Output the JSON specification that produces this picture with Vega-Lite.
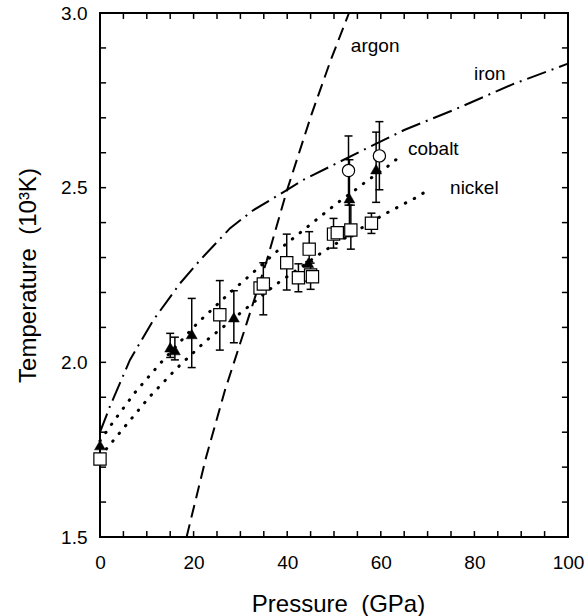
{
  "$schema": "https://vega.github.io/schema/vega-lite/v6.json",
  "width": 468,
  "height": 524,
  "autosize": "none",
  "padding": {"left": 100, "top": 13, "right": 19, "bottom": 79},
  "background": "white",
  "config": {
    "view": {"stroke": "black", "strokeWidth": 2},
    "axis": {"labelFont": "Liberation Sans", "titleFont": "Liberation Sans", "labelColor": "black", "titleColor": "black", "labelFontSize": 19, "titleFontSize": 24, "titleFontWeight": "normal", "grid": false, "domain": false, "ticks": false, "labelFlush": false, "labelOverlap": false},
    "text": {"font": "Liberation Sans"}
  },
  "datasets": {
    "curves": [
      {"m": "argon", "P": 18.5, "T": 1.5}, {"m": "argon", "P": 22.7, "T": 1.73}, {"m": "argon", "P": 26.7, "T": 1.92}, {"m": "argon", "P": 31.3, "T": 2.11}, {"m": "argon", "P": 35.6, "T": 2.29}, {"m": "argon", "P": 39.9, "T": 2.49}, {"m": "argon", "P": 45.2, "T": 2.71}, {"m": "argon", "P": 49.3, "T": 2.865}, {"m": "argon", "P": 53.2, "T": 3.0},
      {"m": "iron", "P": 0, "T": 1.80}, {"m": "iron", "P": 2.1, "T": 1.873}, {"m": "iron", "P": 6.4, "T": 2.007}, {"m": "iron", "P": 11.4, "T": 2.121}, {"m": "iron", "P": 17.1, "T": 2.226}, {"m": "iron", "P": 21.4, "T": 2.293}, {"m": "iron", "P": 27.8, "T": 2.384}, {"m": "iron", "P": 32.8, "T": 2.436}, {"m": "iron", "P": 39.9, "T": 2.493}, {"m": "iron", "P": 43.4, "T": 2.522}, {"m": "iron", "P": 56.3, "T": 2.608}, {"m": "iron", "P": 65, "T": 2.665}, {"m": "iron", "P": 75.5, "T": 2.722}, {"m": "iron", "P": 88, "T": 2.795}, {"m": "iron", "P": 100, "T": 2.855},
      {"m": "cobalt", "P": 0, "T": 1.775}, {"m": "cobalt", "P": 2.85, "T": 1.83}, {"m": "cobalt", "P": 7.5, "T": 1.914}, {"m": "cobalt", "P": 13, "T": 1.999}, {"m": "cobalt", "P": 20.8, "T": 2.112}, {"m": "cobalt", "P": 27.4, "T": 2.195}, {"m": "cobalt", "P": 31.7, "T": 2.245}, {"m": "cobalt", "P": 38, "T": 2.32}, {"m": "cobalt", "P": 42.4, "T": 2.367}, {"m": "cobalt", "P": 46.4, "T": 2.41}, {"m": "cobalt", "P": 50.8, "T": 2.457}, {"m": "cobalt", "P": 54.8, "T": 2.496}, {"m": "cobalt", "P": 57, "T": 2.519}, {"m": "cobalt", "P": 61.4, "T": 2.56}, {"m": "cobalt", "P": 63.7, "T": 2.585},
      {"m": "nickel", "P": 0, "T": 1.73}, {"m": "nickel", "P": 5, "T": 1.811}, {"m": "nickel", "P": 10.5, "T": 1.90}, {"m": "nickel", "P": 16.4, "T": 1.983}, {"m": "nickel", "P": 22.6, "T": 2.061}, {"m": "nickel", "P": 31.3, "T": 2.155}, {"m": "nickel", "P": 37.4, "T": 2.221}, {"m": "nickel", "P": 47.9, "T": 2.319}, {"m": "nickel", "P": 56.3, "T": 2.388}, {"m": "nickel", "P": 60.5, "T": 2.422}, {"m": "nickel", "P": 64, "T": 2.447}, {"m": "nickel", "P": 67.3, "T": 2.47}, {"m": "nickel", "P": 70, "T": 2.492}
    ],
    "points": [
      {"k": "triangle", "P": 0, "T": 1.763},
      {"k": "triangle", "P": 15.0, "T": 2.043, "lo": 2.014, "hi": 2.083},
      {"k": "triangle", "P": 16.0, "T": 2.035, "lo": 2.007, "hi": 2.072},
      {"k": "triangle", "P": 19.6, "T": 2.081, "lo": 1.985, "hi": 2.183},
      {"k": "triangle", "P": 28.6, "T": 2.129, "lo": 2.056, "hi": 2.205},
      {"k": "triangle", "P": 44.5, "T": 2.285},
      {"k": "triangle", "P": 53.3, "T": 2.47, "lo": 2.36, "hi": 2.58},
      {"k": "triangle", "P": 59.0, "T": 2.553, "lo": 2.458, "hi": 2.659},
      {"k": "square", "P": 0, "T": 1.723},
      {"k": "square", "P": 25.6, "T": 2.136, "lo": 2.035, "hi": 2.234},
      {"k": "square", "P": 34.2, "T": 2.213},
      {"k": "square", "P": 34.9, "T": 2.224, "lo": 2.136, "hi": 2.285},
      {"k": "square", "P": 39.9, "T": 2.285, "lo": 2.207, "hi": 2.367},
      {"k": "square", "P": 42.4, "T": 2.242, "lo": 2.202, "hi": 2.282},
      {"k": "square", "P": 44.7, "T": 2.324, "lo": 2.288, "hi": 2.374},
      {"k": "square", "P": 45.0, "T": 2.25, "lo": 2.209, "hi": 2.284},
      {"k": "square", "P": 45.4, "T": 2.245},
      {"k": "square", "P": 49.9, "T": 2.367, "lo": 2.327, "hi": 2.412},
      {"k": "square", "P": 50.7, "T": 2.371},
      {"k": "square", "P": 53.6, "T": 2.379, "lo": 2.324, "hi": 2.45},
      {"k": "square", "P": 58.0, "T": 2.398, "lo": 2.369, "hi": 2.427},
      {"k": "circle", "P": 53.1, "T": 2.549, "lo": 2.45, "hi": 2.648},
      {"k": "circle", "P": 59.7, "T": 2.591, "lo": 2.494, "hi": 2.689}
    ],
    "labels": [
      {"P": 53.6, "T": 2.905, "txt": "argon"},
      {"P": 79.9, "T": 2.826, "txt": "iron"},
      {"P": 65.8, "T": 2.612, "txt": "cobalt"},
      {"P": 74.8, "T": 2.5, "txt": "nickel"}
    ],
    "xticks": [{"v": 0}, {"v": 5}, {"v": 10}, {"v": 15}, {"v": 20}, {"v": 25}, {"v": 30}, {"v": 35}, {"v": 40}, {"v": 45}, {"v": 50}, {"v": 55}, {"v": 60}, {"v": 65}, {"v": 70}, {"v": 75}, {"v": 80}, {"v": 85}, {"v": 90}, {"v": 95}, {"v": 100}],
    "yticks": [{"v": 1.5}, {"v": 1.6}, {"v": 1.7}, {"v": 1.8}, {"v": 1.9}, {"v": 2.0}, {"v": 2.1}, {"v": 2.2}, {"v": 2.3}, {"v": 2.4}, {"v": 2.5}, {"v": 2.6}, {"v": 2.7}, {"v": 2.8}, {"v": 2.9}, {"v": 3.0}]
  },
  "layer": [
    {
      "data": {"name": "curves"},
      "transform": [{"filter": "datum.m === 'argon'"}],
      "mark": {"type": "line", "color": "black", "strokeWidth": 2, "strokeDash": [13, 7]},
      "encoding": {
        "x": {"field": "P", "type": "quantitative", "scale": {"domain": [0, 100], "nice": false, "zero": false},
          "axis": {"orient": "bottom", "values": [0, 20, 40, 60, 80, 100], "labelPadding": 16, "title": "Pressure\u00a0\u00a0(GPa)", "titleX": 238, "titleY": 67, "titleBaseline": "middle", "titleAlign": "center"}},
        "y": {"field": "T", "type": "quantitative", "scale": {"domain": [1.5, 3.0], "nice": false, "zero": false},
          "axis": {"orient": "left", "values": [1.5, 2.0, 2.5, 3.0], "format": ".1f", "labelPadding": 13, "title": "Temperature\u00a0\u00a0(10³K)", "titleX": -72, "titleY": 262, "titleAngle": -90, "titleAlign": "center", "titleBaseline": "middle"}},
        "order": {"field": "T", "type": "quantitative"}
      }
    },
    {
      "data": {"name": "curves"},
      "transform": [{"filter": "datum.m === 'iron'"}],
      "mark": {"type": "line", "color": "black", "strokeWidth": 2, "strokeDash": [20, 6, 2, 6]},
      "encoding": {
        "x": {"field": "P", "type": "quantitative", "scale": {"domain": [0, 100], "nice": false, "zero": false},
          "axis": {"orient": "bottom", "values": [0, 20, 40, 60, 80, 100], "labelPadding": 16, "title": "Pressure\u00a0\u00a0(GPa)", "titleX": 238, "titleY": 67, "titleBaseline": "middle", "titleAlign": "center"}},
        "y": {"field": "T", "type": "quantitative", "scale": {"domain": [1.5, 3.0], "nice": false, "zero": false},
          "axis": {"orient": "left", "values": [1.5, 2.0, 2.5, 3.0], "format": ".1f", "labelPadding": 13, "title": "Temperature\u00a0\u00a0(10³K)", "titleX": -72, "titleY": 262, "titleAngle": -90, "titleAlign": "center", "titleBaseline": "middle"}}
      }
    },
    {
      "data": {"name": "curves"},
      "transform": [{"filter": "datum.m === 'cobalt' || datum.m === 'nickel'"}],
      "mark": {"type": "line", "color": "black", "strokeWidth": 3, "strokeDash": [0.5, 9.5], "strokeCap": "round"},
      "encoding": {
        "x": {"field": "P", "type": "quantitative", "scale": {"domain": [0, 100], "nice": false, "zero": false},
          "axis": {"orient": "bottom", "values": [0, 20, 40, 60, 80, 100], "labelPadding": 16, "title": "Pressure\u00a0\u00a0(GPa)", "titleX": 238, "titleY": 67, "titleBaseline": "middle", "titleAlign": "center"}},
        "y": {"field": "T", "type": "quantitative", "scale": {"domain": [1.5, 3.0], "nice": false, "zero": false},
          "axis": {"orient": "left", "values": [1.5, 2.0, 2.5, 3.0], "format": ".1f", "labelPadding": 13, "title": "Temperature\u00a0\u00a0(10³K)", "titleX": -72, "titleY": 262, "titleAngle": -90, "titleAlign": "center", "titleBaseline": "middle"}},
        "detail": {"field": "m"}
      }
    },
    {
      "data": {"name": "xticks"},
      "mark": {"type": "rule", "color": "black", "strokeWidth": 1.5},
      "encoding": {
        "x": {"field": "v", "type": "quantitative", "scale": {"domain": [0, 100], "nice": false, "zero": false},
          "axis": {"orient": "bottom", "values": [0, 20, 40, 60, 80, 100], "labelPadding": 16, "title": "Pressure\u00a0\u00a0(GPa)", "titleX": 238, "titleY": 67, "titleBaseline": "middle", "titleAlign": "center"}},
        "y": {"datum": 1.5, "type": "quantitative", "scale": {"domain": [1.5, 3.0], "nice": false, "zero": false},
          "axis": {"orient": "left", "values": [1.5, 2.0, 2.5, 3.0], "format": ".1f", "labelPadding": 13, "title": "Temperature\u00a0\u00a0(10³K)", "titleX": -72, "titleY": 262, "titleAngle": -90, "titleAlign": "center", "titleBaseline": "middle"}},
        "y2": {"datum": 1.517}
      }
    },
    {
      "data": {"name": "xticks"},
      "mark": {"type": "rule", "color": "black", "strokeWidth": 1.5},
      "encoding": {
        "x": {"field": "v", "type": "quantitative", "scale": {"domain": [0, 100], "nice": false, "zero": false},
          "axis": {"orient": "bottom", "values": [0, 20, 40, 60, 80, 100], "labelPadding": 16, "title": "Pressure\u00a0\u00a0(GPa)", "titleX": 238, "titleY": 67, "titleBaseline": "middle", "titleAlign": "center"}},
        "y": {"datum": 2.983, "type": "quantitative", "scale": {"domain": [1.5, 3.0], "nice": false, "zero": false},
          "axis": {"orient": "left", "values": [1.5, 2.0, 2.5, 3.0], "format": ".1f", "labelPadding": 13, "title": "Temperature\u00a0\u00a0(10³K)", "titleX": -72, "titleY": 262, "titleAngle": -90, "titleAlign": "center", "titleBaseline": "middle"}},
        "y2": {"datum": 3.0}
      }
    },
    {
      "data": {"name": "yticks"},
      "mark": {"type": "rule", "color": "black", "strokeWidth": 1.5},
      "encoding": {
        "y": {"field": "v", "type": "quantitative", "scale": {"domain": [1.5, 3.0], "nice": false, "zero": false},
          "axis": {"orient": "left", "values": [1.5, 2.0, 2.5, 3.0], "format": ".1f", "labelPadding": 13, "title": "Temperature\u00a0\u00a0(10³K)", "titleX": -72, "titleY": 262, "titleAngle": -90, "titleAlign": "center", "titleBaseline": "middle"}},
        "x": {"datum": 0, "type": "quantitative", "scale": {"domain": [0, 100], "nice": false, "zero": false},
          "axis": {"orient": "bottom", "values": [0, 20, 40, 60, 80, 100], "labelPadding": 16, "title": "Pressure\u00a0\u00a0(GPa)", "titleX": 238, "titleY": 67, "titleBaseline": "middle", "titleAlign": "center"}},
        "x2": {"datum": 1.3}
      }
    },
    {
      "data": {"name": "yticks"},
      "mark": {"type": "rule", "color": "black", "strokeWidth": 1.5},
      "encoding": {
        "y": {"field": "v", "type": "quantitative", "scale": {"domain": [1.5, 3.0], "nice": false, "zero": false},
          "axis": {"orient": "left", "values": [1.5, 2.0, 2.5, 3.0], "format": ".1f", "labelPadding": 13, "title": "Temperature\u00a0\u00a0(10³K)", "titleX": -72, "titleY": 262, "titleAngle": -90, "titleAlign": "center", "titleBaseline": "middle"}},
        "x": {"datum": 98.7, "type": "quantitative", "scale": {"domain": [0, 100], "nice": false, "zero": false},
          "axis": {"orient": "bottom", "values": [0, 20, 40, 60, 80, 100], "labelPadding": 16, "title": "Pressure\u00a0\u00a0(GPa)", "titleX": 238, "titleY": 67, "titleBaseline": "middle", "titleAlign": "center"}},
        "x2": {"datum": 100}
      }
    },
    {
      "data": {"name": "points"},
      "transform": [{"filter": "isValid(datum.lo)"}],
      "mark": {"type": "rule", "color": "black", "strokeWidth": 1.5},
      "encoding": {
        "x": {"field": "P", "type": "quantitative", "scale": {"domain": [0, 100], "nice": false, "zero": false},
          "axis": {"orient": "bottom", "values": [0, 20, 40, 60, 80, 100], "labelPadding": 16, "title": "Pressure\u00a0\u00a0(GPa)", "titleX": 238, "titleY": 67, "titleBaseline": "middle", "titleAlign": "center"}},
        "y": {"field": "lo", "type": "quantitative", "scale": {"domain": [1.5, 3.0], "nice": false, "zero": false},
          "axis": {"orient": "left", "values": [1.5, 2.0, 2.5, 3.0], "format": ".1f", "labelPadding": 13, "title": "Temperature\u00a0\u00a0(10³K)", "titleX": -72, "titleY": 262, "titleAngle": -90, "titleAlign": "center", "titleBaseline": "middle"}},
        "y2": {"field": "hi"}
      }
    },
    {
      "data": {"name": "points"},
      "transform": [{"filter": "isValid(datum.lo)"}],
      "mark": {"type": "tick", "color": "black", "orient": "horizontal", "size": 8, "thickness": 1.5, "opacity": 1},
      "encoding": {
        "x": {"field": "P", "type": "quantitative", "scale": {"domain": [0, 100], "nice": false, "zero": false},
          "axis": {"orient": "bottom", "values": [0, 20, 40, 60, 80, 100], "labelPadding": 16, "title": "Pressure\u00a0\u00a0(GPa)", "titleX": 238, "titleY": 67, "titleBaseline": "middle", "titleAlign": "center"}},
        "y": {"field": "lo", "type": "quantitative", "scale": {"domain": [1.5, 3.0], "nice": false, "zero": false},
          "axis": {"orient": "left", "values": [1.5, 2.0, 2.5, 3.0], "format": ".1f", "labelPadding": 13, "title": "Temperature\u00a0\u00a0(10³K)", "titleX": -72, "titleY": 262, "titleAngle": -90, "titleAlign": "center", "titleBaseline": "middle"}}
      }
    },
    {
      "data": {"name": "points"},
      "transform": [{"filter": "isValid(datum.hi)"}],
      "mark": {"type": "tick", "color": "black", "orient": "horizontal", "size": 8, "thickness": 1.5, "opacity": 1},
      "encoding": {
        "x": {"field": "P", "type": "quantitative", "scale": {"domain": [0, 100], "nice": false, "zero": false},
          "axis": {"orient": "bottom", "values": [0, 20, 40, 60, 80, 100], "labelPadding": 16, "title": "Pressure\u00a0\u00a0(GPa)", "titleX": 238, "titleY": 67, "titleBaseline": "middle", "titleAlign": "center"}},
        "y": {"field": "hi", "type": "quantitative", "scale": {"domain": [1.5, 3.0], "nice": false, "zero": false},
          "axis": {"orient": "left", "values": [1.5, 2.0, 2.5, 3.0], "format": ".1f", "labelPadding": 13, "title": "Temperature\u00a0\u00a0(10³K)", "titleX": -72, "titleY": 262, "titleAngle": -90, "titleAlign": "center", "titleBaseline": "middle"}}
      }
    },
    {
      "data": {"name": "points"},
      "transform": [{"filter": "datum.k === 'square'"}],
      "mark": {"type": "point", "shape": "square", "filled": true, "fill": "white", "stroke": "black", "strokeWidth": 1.2, "size": 150, "opacity": 1},
      "encoding": {
        "x": {"field": "P", "type": "quantitative", "scale": {"domain": [0, 100], "nice": false, "zero": false},
          "axis": {"orient": "bottom", "values": [0, 20, 40, 60, 80, 100], "labelPadding": 16, "title": "Pressure\u00a0\u00a0(GPa)", "titleX": 238, "titleY": 67, "titleBaseline": "middle", "titleAlign": "center"}},
        "y": {"field": "T", "type": "quantitative", "scale": {"domain": [1.5, 3.0], "nice": false, "zero": false},
          "axis": {"orient": "left", "values": [1.5, 2.0, 2.5, 3.0], "format": ".1f", "labelPadding": 13, "title": "Temperature\u00a0\u00a0(10³K)", "titleX": -72, "titleY": 262, "titleAngle": -90, "titleAlign": "center", "titleBaseline": "middle"}}
      }
    },
    {
      "data": {"name": "points"},
      "transform": [{"filter": "datum.k === 'triangle'"}],
      "mark": {"type": "point", "shape": "triangle-up", "filled": true, "fill": "black", "stroke": "black", "strokeWidth": 0.5, "size": 120, "opacity": 1},
      "encoding": {
        "x": {"field": "P", "type": "quantitative", "scale": {"domain": [0, 100], "nice": false, "zero": false},
          "axis": {"orient": "bottom", "values": [0, 20, 40, 60, 80, 100], "labelPadding": 16, "title": "Pressure\u00a0\u00a0(GPa)", "titleX": 238, "titleY": 67, "titleBaseline": "middle", "titleAlign": "center"}},
        "y": {"field": "T", "type": "quantitative", "scale": {"domain": [1.5, 3.0], "nice": false, "zero": false},
          "axis": {"orient": "left", "values": [1.5, 2.0, 2.5, 3.0], "format": ".1f", "labelPadding": 13, "title": "Temperature\u00a0\u00a0(10³K)", "titleX": -72, "titleY": 262, "titleAngle": -90, "titleAlign": "center", "titleBaseline": "middle"}}
      }
    },
    {
      "data": {"name": "points"},
      "transform": [{"filter": "datum.k === 'circle'"}],
      "mark": {"type": "point", "shape": "circle", "filled": true, "fill": "white", "stroke": "black", "strokeWidth": 1.2, "size": 150, "opacity": 1},
      "encoding": {
        "x": {"field": "P", "type": "quantitative", "scale": {"domain": [0, 100], "nice": false, "zero": false},
          "axis": {"orient": "bottom", "values": [0, 20, 40, 60, 80, 100], "labelPadding": 16, "title": "Pressure\u00a0\u00a0(GPa)", "titleX": 238, "titleY": 67, "titleBaseline": "middle", "titleAlign": "center"}},
        "y": {"field": "T", "type": "quantitative", "scale": {"domain": [1.5, 3.0], "nice": false, "zero": false},
          "axis": {"orient": "left", "values": [1.5, 2.0, 2.5, 3.0], "format": ".1f", "labelPadding": 13, "title": "Temperature\u00a0\u00a0(10³K)", "titleX": -72, "titleY": 262, "titleAngle": -90, "titleAlign": "center", "titleBaseline": "middle"}}
      }
    },
    {
      "data": {"name": "labels"},
      "mark": {"type": "text", "align": "left", "baseline": "middle", "fontSize": 19, "color": "black"},
      "encoding": {
        "x": {"field": "P", "type": "quantitative", "scale": {"domain": [0, 100], "nice": false, "zero": false},
          "axis": {"orient": "bottom", "values": [0, 20, 40, 60, 80, 100], "labelPadding": 16, "title": "Pressure\u00a0\u00a0(GPa)", "titleX": 238, "titleY": 67, "titleBaseline": "middle", "titleAlign": "center"}},
        "y": {"field": "T", "type": "quantitative", "scale": {"domain": [1.5, 3.0], "nice": false, "zero": false},
          "axis": {"orient": "left", "values": [1.5, 2.0, 2.5, 3.0], "format": ".1f", "labelPadding": 13, "title": "Temperature\u00a0\u00a0(10³K)", "titleX": -72, "titleY": 262, "titleAngle": -90, "titleAlign": "center", "titleBaseline": "middle"}},
        "text": {"field": "txt"}
      }
    }
  ]
}
